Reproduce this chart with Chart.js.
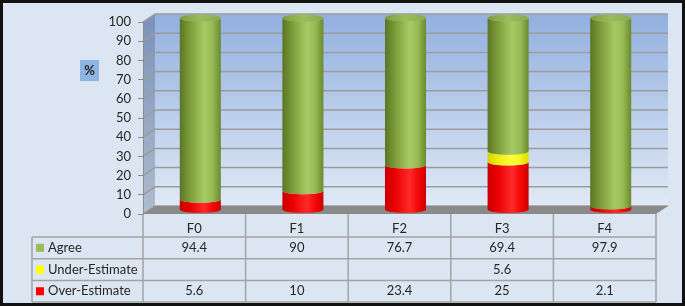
<!DOCTYPE html>
<html>
<head>
<meta charset="utf-8">
<title>Agreement chart</title>
<script src="https://cdn.jsdelivr.net/npm/chart.js@4.4.1/dist/chart.umd.min.js"></script>
<style>
  html, body { margin: 0; padding: 0; background: #ffffff; }
  #wrap { width: 685px; height: 308px; }
</style>
</head>
<body>
<div id="wrap"><canvas id="chart" width="685" height="308"></canvas></div>
<script>
// data
const categories = ["F0", "F1", "F2", "F3", "F4"];
const agree = [94.4, 90, 76.7, 69.4, 97.9];
const underEstimate = [null, null, null, 5.6, null];
const overEstimate = [5.6, 10, 23.4, 25, 2.1];
const yMin = 0;
const yMax = 100;
const yStep = 10;

// 3D depth offset of the back wall
const DX = 12;
const DY = -8;
const FONT = "Lato, 'Open Sans', sans-serif";
const TEXT = "#262626";

const gradStops = {
  Agree: ["#5b7625", "#7d9c3a", "#a8ca64", "#98ba55", "#6a8a2d"],
  "Under-Estimate": ["#d2d200", "#ecec10", "#ffff3a", "#f4f41c", "#d8d800"],
  "Over-Estimate": ["#c80000", "#ea0000", "#ff2a2a", "#f40808", "#cc0000"],
};
const keyColors = { Agree: "#9bbb59", "Under-Estimate": "#ffff00", "Over-Estimate": "#ff0000" };

function hGrad(ctx, x0, x1, stops) {
  const g = ctx.createLinearGradient(x0, 0, x1, 0);
  const pos = [0, 0.25, 0.6, 0.8, 1];
  stops.forEach((c, i) => g.addColorStop(pos[i], c));
  return g;
}

const backdrop = {
  id: "backdrop",
  beforeDraw(chart) {
    const ctx = chart.ctx;
    const { left: L, right: R, top: T, bottom: B } = chart.chartArea;
    const y = chart.scales.y;
    ctx.save();
    // frame
    ctx.fillStyle = "#dce6f2";
    ctx.fillRect(0, 0, 685, 306);
    ctx.strokeStyle = "#111111";
    ctx.lineWidth = 3;
    ctx.strokeRect(1.5, 1.5, 682, 303);

    // back wall
    const bg = ctx.createLinearGradient(0, T + DY, 0, B + DY);
    bg.addColorStop(0, "#92b0df");
    bg.addColorStop(1, "#e0e9f6");
    ctx.fillStyle = bg;
    ctx.fillRect(L + DX, T + DY, R - L, B - T);

    // side wall
    const sg = ctx.createLinearGradient(0, T, 0, B);
    sg.addColorStop(0, "#7d93b9");
    sg.addColorStop(1, "#b0bccd");
    ctx.fillStyle = sg;
    ctx.beginPath();
    ctx.moveTo(L, T);
    ctx.lineTo(L + DX, T + DY);
    ctx.lineTo(L + DX, B + DY);
    ctx.lineTo(L, B);
    ctx.closePath();
    ctx.fill();

    // gridlines on both walls
    ctx.strokeStyle = "#9c9c9c";
    ctx.lineWidth = 1.5;
    for (let v = yMin; v <= yMax; v += yStep) {
      const py = y.getPixelForValue(v);
      ctx.beginPath();
      ctx.moveTo(L, py);
      ctx.lineTo(L + DX, py + DY);
      ctx.lineTo(R + DX, py + DY);
      ctx.stroke();
    }

    // floor
    ctx.fillStyle = "#8a8a8a";
    ctx.beginPath();
    ctx.moveTo(L, B);
    ctx.lineTo(R, B);
    ctx.lineTo(R + DX, B + DY);
    ctx.lineTo(L + DX, B + DY);
    ctx.closePath();
    ctx.fill();

    // axis title box
    ctx.fillStyle = "#8db4e2";
    ctx.fillRect(80, 60, 19, 21);
    ctx.fillStyle = TEXT;
    ctx.font = "bold 13px " + FONT;
    ctx.textAlign = "center";
    ctx.textBaseline = "middle";
    ctx.fillText("%", 89.5, 71);
    ctx.restore();
  },
};

const cylinders = {
  id: "cylinders",
  afterDatasetsDraw(chart) {
    const ctx = chart.ctx;
    const ry = 3.5;
    ctx.save();
    chart.data.datasets.forEach((ds, di) => {
      const meta = chart.getDatasetMeta(di);
      meta.data.forEach((el, i) => {
        if (ds.data[i] == null) return;
        const p = el.getProps(["x", "y", "base", "width"], true);
        const cx = p.x + DX / 2;
        const top = p.y + DY / 2;
        const bot = p.base + DY / 2;
        const rx = p.width / 2;
        const fill = hGrad(ctx, cx - rx, cx + rx, gradStops[ds.label]);
        ctx.fillStyle = fill;
        ctx.beginPath();
        ctx.moveTo(cx - rx, top);
        ctx.lineTo(cx - rx, bot);
        ctx.ellipse(cx, bot, rx, ry, 0, Math.PI, 0, true);
        ctx.lineTo(cx + rx, top);
        ctx.ellipse(cx, top, rx, ry, 0, 0, Math.PI, false);
        ctx.closePath();
        ctx.fill();

        // cap on the highest segment
        const higher = chart.data.datasets.slice(di + 1).some((d) => d.data[i] != null);
        if (!higher) {
          const cap = ctx.createLinearGradient(cx - rx, 0, cx + rx, 0);
          cap.addColorStop(0, "#7e9c3c");
          cap.addColorStop(0.5, "#9dbd5a");
          cap.addColorStop(1, "#8aab48");
          ctx.fillStyle = cap;
          ctx.beginPath();
          ctx.ellipse(cx, top, rx, ry, 0, 0, Math.PI * 2);
          ctx.fill();
        }
      });
    });
    ctx.restore();
  },
};

const dataTable = {
  id: "dataTable",
  afterDraw(chart) {
    const ctx = chart.ctx;
    const { left: L, right: R, bottom: B } = chart.chartArea;
    const x = chart.scales.x;
    const colW = (R - L) / categories.length;
    const headH = 23;
    const rowH = 21.7;
    const labelLeft = 32;
    const rows = [
      { label: "Agree", values: agree },
      { label: "Under-Estimate", values: underEstimate },
      { label: "Over-Estimate", values: overEstimate },
    ];
    const tableBottom = B + headH + rowH * rows.length;
    ctx.save();
    ctx.strokeStyle = "#a3a3a3";
    ctx.lineWidth = 1.5;
    ctx.beginPath();
    for (let k = 0; k <= categories.length; k++) {
      const px = L + k * colW;
      ctx.moveTo(px, B);
      ctx.lineTo(px, tableBottom);
    }
    ctx.moveTo(labelLeft, B + headH);
    ctx.lineTo(labelLeft, tableBottom);
    for (let r = 0; r <= rows.length; r++) {
      const py = B + headH + r * rowH;
      ctx.moveTo(labelLeft, py);
      ctx.lineTo(R, py);
    }
    ctx.stroke();

    ctx.font = "13px " + FONT;
    ctx.textBaseline = "middle";
    rows.forEach((row, r) => {
      const cy = B + headH + r * rowH + rowH / 2;
      ctx.fillStyle = keyColors[row.label];
      ctx.fillRect(36, cy - 4, 8, 8);
      ctx.fillStyle = TEXT;
      ctx.textAlign = "left";
      ctx.fillText(row.label, 48, cy);
      ctx.textAlign = "center";
      row.values.forEach((v, i) => {
        if (v == null) return;
        ctx.fillText(String(v), x.getPixelForValue(i), cy);
      });
    });
    ctx.restore();
  },
};

new Chart(document.getElementById("chart"), {
  type: "bar",
  data: {
    labels: categories,
    datasets: [
      { label: "Over-Estimate", data: overEstimate },
      { label: "Under-Estimate", data: underEstimate },
      { label: "Agree", data: agree },
    ].map((d) => ({
      ...d,
      backgroundColor: "rgba(0,0,0,0)",
      borderWidth: 0,
      barPercentage: 0.4,
      categoryPercentage: 1,
    })),
  },
  options: {
    responsive: false,
    animation: false,
    devicePixelRatio: 1,
    layout: { padding: { left: 0, right: 29, top: 22, bottom: 71 } },
    plugins: {
      legend: { display: false },
      tooltip: { enabled: false },
    },
    scales: {
      x: {
        stacked: true,
        afterFit: (scale) => { scale.height = 23; },
        grid: { display: false, drawTicks: false },
        border: { display: false },
        ticks: { color: TEXT, font: { family: FONT, size: 13 }, padding: 7 },
      },
      y: {
        stacked: true,
        min: yMin,
        max: yMax,
        afterFit: (scale) => { scale.width = 143; },
        grid: { drawOnChartArea: false, tickLength: 5, color: "#8c8c8c" },
        border: { display: true, color: "#8c8c8c" },
        ticks: { stepSize: yStep, color: TEXT, font: { family: FONT, size: 13 }, padding: 7 },
      },
    },
  },
  plugins: [backdrop, cylinders, dataTable],
});
</script>
</body>
</html>
